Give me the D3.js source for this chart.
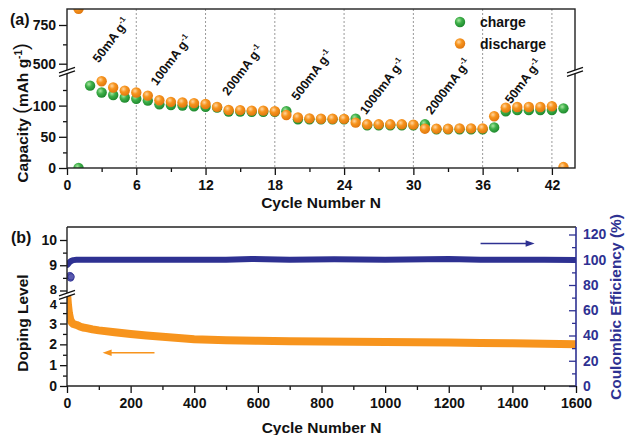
<!DOCTYPE html>
<html><head><meta charset="utf-8">
<script src="https://cdn.jsdelivr.net/npm/d3@7"></script>
<style>
body{margin:0;background:#fff}
svg{display:block}
text{font-family:"Liberation Sans",Arial,Helvetica,sans-serif;font-weight:bold}
</style>
</head><body>
<svg id="c" width="628" height="435"></svg>
<script>
// ---------- data: panel (a) ----------
const cycles = [1,2,3,4,5,6,7,8,9,10,11,12,13,14,15,16,17,18,19,20,21,22,23,24,25,26,27,28,29,30,31,32,33,34,35,36,37,38,39,40,41,42,43];
const charge = [0,132,121,117,113,111,108,102,101,100,99,98, 97,90.5,90.5,90,90,90, 91,78,78,78,78,78, 79,68.5,68.5,68.5,68.5,68.5, 70,62,62,62,62,62, 65,91,92.7,92.7,93,93, 95.6];
const discharge = [855,null,139,129,124,121,116,108.5,106,105,104,102.6, 98,93,92.7,92,92,91, 85,81,79.6,79,79,78.8, 72.7,70,70,70,70,69.5, 63,63,62.8,63.5,63.5,63.5, 83,96.8,97.8,97.8,97.8,99, 1.5];
const rateBounds = [6,12,18,24,30,36,42];
const rateLabels = ["50mA g","100mA g","200mA g","500mA g","1000mA g","2000mA g","50mA g"];
// label centres, in data units of the lower capacity scale (extended)
const rateLabelCycle = [3.8,9.0,15.2,21.2,27.3,33.0,39.5];
const rateLabelValue = [205,173,157,149,131,131,139];
const xTicksA = [0,6,12,18,24,30,36,42];
const xMinorA = [3,9,15,21,27,33,39];
const yTicksLo = [0,50,100], yMinorLo = [25,75,125];
const yTicksHi = [500,750], yMinorHi = [625];

// ---------- data: panel (b) ----------
const dopCycle = [1,3,6,10,15,20,30,40,50,62,80,100,150,200,250,300,350,400,500,600,700,800,900,1000,1100,1200,1300,1400,1500,1600];
const dopVal   = [4.3,3.9,3.5,3.2,3.05,2.98,2.93,2.86,2.81,2.78,2.72,2.67,2.58,2.5,2.43,2.36,2.3,2.25,2.2,2.17,2.15,2.14,2.12,2.11,2.1,2.09,2.07,2.05,2.03,2.0];
const ceCycle  = [1,3,6,10,15,20,30,50,100,200,300,400,500,580,700,840,1000,1200,1300,1400,1500,1600];
const ceVal    = [96,96.5,97.5,98.5,99.3,99.7,100,100,100,100,100,100,100,100.6,100,100.4,100,100.5,100,100,100,99.8];
const ceLowCycle = [9,11,13];
const ceLowVal   = [87.5,85.5,86.5];
const xTicksB = [0,200,400,600,800,1000,1200,1400,1600];
const xMinorB = [100,300,500,700,900,1100,1300,1500];
const dTicksLo = [0,1,2,3,4], dMinorLo = [0.5,1.5,2.5,3.5];
const dTicksHi = [8,9,10], dMinorHi = [8.5,9.5];
const ceTicks = [0,20,40,60,80,100,120], ceMinor = [10,30,50,70,90,110];

// ---------- drawing ----------
const svg = d3.select("#c");
const NAVY = "#2e3192", ORANGE = "#f7941d";
const fmt = d3.format("d");
const defs = svg.append("defs");
function grad(id, hi, mid, edge){
  const g = defs.append("radialGradient").attr("id",id).attr("cx","38%").attr("cy","35%").attr("r","65%");
  g.append("stop").attr("offset","0%").attr("stop-color",hi);
  g.append("stop").attr("offset","45%").attr("stop-color",mid);
  g.append("stop").attr("offset","100%").attr("stop-color",edge);
}
grad("gG","#a8e6a0","#3fb04a","#1f8a2e");
grad("gO","#ffd6a0","#f7941d","#e07810");

// ===== Panel (a) =====
const A = {l:67, r:575, t:9, b:168};
const xA = d3.scaleLinear().domain([0,44]).range([A.l, A.r]);
const yLo = d3.scaleLinear().domain([0,150]).range([168, 74.4]);
const yHi = d3.scaleLinear().domain([500,750]).range([63.7, 25]);
const yCap = v => v > 300 ? yHi(v) : yLo(v);

defs.append("clipPath").attr("id","clipA").append("rect")
  .attr("x",A.l).attr("y",A.t).attr("width",A.r-A.l).attr("height",A.b-A.t);

svg.append("g").selectAll("line").data(rateBounds).join("line")
  .attr("x1",d=>xA(d)).attr("x2",d=>xA(d)).attr("y1",A.t).attr("y2",A.b)
  .attr("stroke","#9a9a9a").attr("stroke-width",1).attr("stroke-dasharray","2,2");

const lab = svg.append("g");
rateLabels.forEach((t,i)=>{
  const x = xA(rateLabelCycle[i]), y = yLo(rateLabelValue[i]);
  const tx = lab.append("text").attr("transform",`translate(${x},${y}) rotate(-53)`)
    .attr("text-anchor","middle").attr("dy","0.35em").attr("font-size",12.5).attr("fill","#111");
  tx.append("tspan").text(t);
  tx.append("tspan").attr("dy",-5).attr("font-size",8).text("-1");
});

const dotsA = svg.append("g").attr("clip-path","url(#clipA)");
const cData = cycles.map((c,i)=>({c, v:charge[i]})).filter(d=>d.v!=null);
const dData = cycles.map((c,i)=>({c, v:discharge[i]})).filter(d=>d.v!=null);
dotsA.selectAll("circle.ch").data(cData).join("circle").attr("class","ch")
  .attr("cx",d=>xA(d.c)).attr("cy",d=>yCap(d.v)).attr("r",5.2).attr("fill","url(#gG)");
dotsA.selectAll("circle.di").data(dData).join("circle").attr("class","di")
  .attr("cx",d=>xA(d.c)).attr("cy",d=>yCap(d.v)).attr("r",5.2).attr("fill","url(#gO)");

// axes (a)
function styleAxis(g, col){
  g.select(".domain").remove();
  g.selectAll("line").attr("stroke",col||"#111").attr("stroke-width",1.3);
  g.selectAll("text").attr("font-family",null).attr("font-size",14).attr("fill",col||"#111");
}
const gxA = svg.append("g").attr("transform",`translate(0,${A.b})`)
  .call(d3.axisBottom(xA).tickValues(xTicksA).tickFormat(fmt).tickSize(7).tickPadding(5));
styleAxis(gxA);
const gxAm = svg.append("g").attr("transform",`translate(0,${A.b})`)
  .call(d3.axisBottom(xA).tickValues(xMinorA).tickSize(4).tickFormat(""));
styleAxis(gxAm);
[[yLo,yTicksLo,yMinorLo],[yHi,yTicksHi,yMinorHi]].forEach(([s,t,m])=>{
  const g1 = svg.append("g").attr("transform",`translate(${A.l},0)`)
    .call(d3.axisLeft(s).tickValues(t).tickFormat(fmt).tickSize(8).tickPadding(3));
  styleAxis(g1);
  const g2 = svg.append("g").attr("transform",`translate(${A.l},0)`)
    .call(d3.axisLeft(s).tickValues(m).tickSize(4).tickFormat(""));
  styleAxis(g2);
});
svg.append("rect").attr("x",A.l).attr("y",A.t).attr("width",A.r-A.l).attr("height",A.b-A.t)
  .attr("fill","none").attr("stroke","#222").attr("stroke-width",1.4);

function breakMark(x, y, col){
  svg.append("polygon")
    .attr("points",`${x-7},${y+2} ${x+7},${y-3} ${x+7},${y+0.5} ${x-7},${y+5.5}`)
    .attr("fill","#fff");
  [0,3.5].forEach(o=>svg.append("line")
    .attr("x1",x-8).attr("y1",y+2.4+o).attr("x2",x+8).attr("y2",y-3.2+o)
    .attr("stroke",col||"#111").attr("stroke-width",1.3));
}
breakMark(A.l, 70.5);
breakMark(A.r, 70.5);

// legend
const leg = svg.append("g");
leg.append("circle").attr("cx",460).attr("cy",22).attr("r",5.2).attr("fill","url(#gG)");
leg.append("circle").attr("cx",460).attr("cy",43.5).attr("r",5.2).attr("fill","url(#gO)");
leg.append("text").attr("x",480).attr("y",27).attr("font-size",14).attr("fill","#111").text("charge");
leg.append("text").attr("x",480).attr("y",49).attr("font-size",14).attr("fill","#111").text("discharge");

// titles (a)
svg.append("text").attr("x",10).attr("y",25).attr("font-size",16).attr("fill","#111").text("(a)");
svg.append("text").attr("x",(A.l+A.r)/2).attr("y",208).attr("text-anchor","middle")
  .attr("font-size",15.5).attr("fill","#111").text("Cycle Number N");
const capT = svg.append("text").attr("transform","translate(28,113) rotate(-90)")
  .attr("text-anchor","middle").attr("font-size",15.5).attr("fill","#111");
capT.append("tspan").text("Capacity ");
capT.append("tspan").attr("font-size",20).attr("font-weight","normal").text("(");
capT.append("tspan").text("mAh g");
capT.append("tspan").attr("dy",-6).attr("font-size",10).text("-1");
capT.append("tspan").attr("dy",6).attr("font-size",20).attr("font-weight","normal").text(")");

// ===== Panel (b) =====
const B = {l:67, r:576, t:227, b:386};
const xB = d3.scaleLinear().domain([0,1600]).range([B.l, B.r]);
const yDLo = d3.scaleLinear().domain([0,4]).range([386, 302.7]);
const yDHi = d3.scaleLinear().domain([8,10]).range([290.5, 240]);
const yCE = d3.scaleLinear().domain([0,120]).range([386, 234.5]);

defs.append("clipPath").attr("id","clipB").append("rect")
  .attr("x",B.l).attr("y",B.t).attr("width",B.r-B.l).attr("height",B.b-B.t);
const gB = svg.append("g").attr("clip-path","url(#clipB)");
const ceLine = d3.line().x((d,i)=>xB(ceCycle[i])).y((d,i)=>yCE(ceVal[i]));
gB.append("path").attr("d",ceLine(ceVal)).attr("fill","none").attr("stroke",NAVY)
  .attr("stroke-width",6).attr("stroke-linejoin","round").attr("stroke-linecap","round");
gB.selectAll("circle.cel").data(ceLowVal).join("circle").attr("class","cel")
  .attr("cx",(d,i)=>xB(ceLowCycle[i])).attr("cy",d=>yCE(d)).attr("r",3.2)
  .attr("fill","#5a5ab0").attr("stroke",NAVY).attr("stroke-width",0.8);
const dLine = d3.line().x((d,i)=>xB(dopCycle[i])).y((d,i)=>yDLo(dopVal[i]));
gB.append("path").attr("d",dLine(dopVal)).attr("fill","none").attr("stroke",ORANGE)
  .attr("stroke-width",8).attr("stroke-linejoin","round").attr("stroke-linecap","round");

// axes (b)
const gxB = svg.append("g").attr("transform",`translate(0,${B.b})`)
  .call(d3.axisBottom(xB).tickValues(xTicksB).tickFormat(fmt).tickSize(7).tickPadding(5));
styleAxis(gxB);
const gxBm = svg.append("g").attr("transform",`translate(0,${B.b})`)
  .call(d3.axisBottom(xB).tickValues(xMinorB).tickSize(4).tickFormat(""));
styleAxis(gxBm);
[[yDLo,dTicksLo,dMinorLo,1.5],[yDHi,dTicksHi,dMinorHi,-1.5]].forEach(([s,t,m,nudge])=>{
  const g1 = svg.append("g").attr("transform",`translate(${B.l},0)`)
    .call(d3.axisLeft(s).tickValues(t).tickFormat(fmt).tickSize(7).tickPadding(3));
  styleAxis(g1);
  g1.selectAll(".tick").filter(d=>d===4||d===8).select("text").attr("y",nudge).attr("font-size",13);
  const g2 = svg.append("g").attr("transform",`translate(${B.l},0)`)
    .call(d3.axisLeft(s).tickValues(m).tickSize(4).tickFormat(""));
  styleAxis(g2);
});
const gR = svg.append("g").attr("transform",`translate(${B.r},0)`)
  .call(d3.axisRight(yCE).tickValues(ceTicks).tickFormat(fmt).tickSize(-7).tickPadding(7));
styleAxis(gR, NAVY);
const gRm = svg.append("g").attr("transform",`translate(${B.r},0)`)
  .call(d3.axisRight(yCE).tickValues(ceMinor).tickSize(-4).tickFormat(""));
styleAxis(gRm, NAVY);

svg.append("line").attr("x1",B.l).attr("x2",B.r).attr("y1",B.t).attr("y2",B.t).attr("stroke","#222").attr("stroke-width",1.4);
svg.append("line").attr("x1",B.l).attr("x2",B.r).attr("y1",B.b).attr("y2",B.b).attr("stroke","#222").attr("stroke-width",1.4);
svg.append("line").attr("x1",B.l).attr("x2",B.l).attr("y1",B.t).attr("y2",B.b).attr("stroke","#222").attr("stroke-width",1.4);
svg.append("line").attr("x1",B.r).attr("x2",B.r).attr("y1",B.t).attr("y2",B.b).attr("stroke",NAVY).attr("stroke-width",1.6);
breakMark(B.l, 293.5);

// arrows
function arrow(x1,x2,y,col){
  const dir = Math.sign(x2-x1);
  svg.append("line").attr("x1",x1).attr("x2",x2-dir*6).attr("y1",y).attr("y2",y)
    .attr("stroke",col).attr("stroke-width",1.6);
  svg.append("polygon").attr("points",`${x2},${y} ${x2-dir*9},${y-3.2} ${x2-dir*9},${y+3.2}`).attr("fill",col);
}
arrow(xB(275), xB(112), 352.7, ORANGE);
arrow(xB(1300), xB(1470), 243.5, NAVY);

// titles (b)
svg.append("text").attr("x",11).attr("y",243).attr("font-size",16).attr("fill","#111").text("(b)");
svg.append("text").attr("x",(B.l+B.r)/2).attr("y",433).attr("text-anchor","middle")
  .attr("font-size",15.5).attr("fill","#111").text("Cycle Number N");
svg.append("text").attr("transform","translate(28,323) rotate(-90)").attr("text-anchor","middle")
  .attr("font-size",15.5).attr("fill","#111").text("Doping Level");
svg.append("text").attr("transform","translate(621,307) rotate(-90)").attr("text-anchor","middle")
  .attr("font-size",15.5).attr("fill",NAVY).text("Coulombic Efficiency (%)");
</script>
</body></html>
